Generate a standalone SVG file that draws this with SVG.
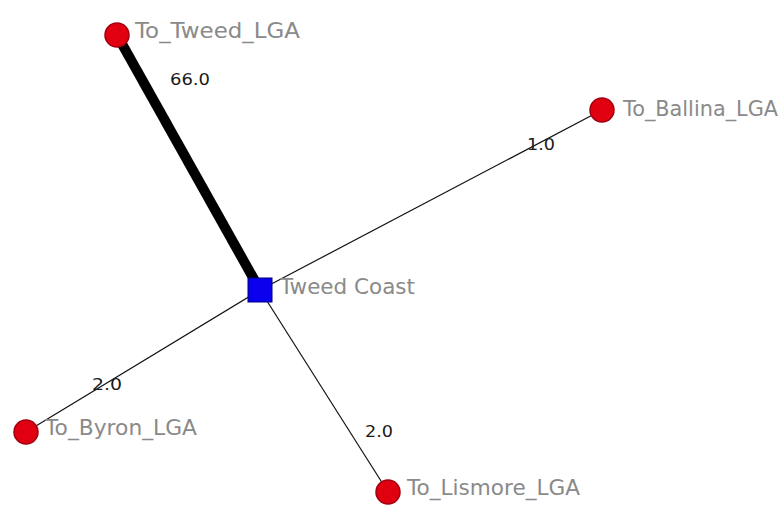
<svg xmlns="http://www.w3.org/2000/svg" width="784" height="509" viewBox="0 0 784 509">
<style>
.nl{font-family:"DejaVu Sans","Liberation Sans",sans-serif;font-size:20.5px;fill:#8a8a8a}
.el{font-family:"DejaVu Sans","Liberation Sans",sans-serif;font-size:16px;fill:#1a1a1a}
.c{fill:#e00010;stroke:#a00010;stroke-width:1.5}
.e{stroke:#111;stroke-width:1.2;fill:none}
</style>
<rect width="784" height="509" fill="#ffffff"/>
<g id="connectors">
<line class="e" x1="260" y1="290" x2="117" y2="35" style="stroke-width:10;stroke:#000"/>
<line class="e" x1="260" y1="290" x2="602" y2="110"/>
<line class="e" x1="260" y1="290" x2="26" y2="432"/>
<line class="e" x1="260" y1="290" x2="388" y2="492"/>
<text class="el" x="170" y="85" textLength="40" lengthAdjust="spacingAndGlyphs">66.0</text>
<text class="el" x="527" y="150" textLength="28" lengthAdjust="spacingAndGlyphs">1.0</text>
<text class="el" x="92" y="390" textLength="30" lengthAdjust="spacingAndGlyphs">2.0</text>
<text class="el" x="365" y="437" textLength="28" lengthAdjust="spacingAndGlyphs">2.0</text>
</g>
<g id="tweed_coast">
<rect x="248" y="278" width="24" height="24" fill="#0a00ee" stroke="#000080" stroke-width="1"/>
<text class="nl" x="280" y="294" textLength="135" lengthAdjust="spacingAndGlyphs">Tweed Coast</text>
</g>
<g id="to_tweed_lga">
<circle class="c" cx="117" cy="35" r="12"/>
<text class="nl" x="135" y="38" textLength="165" lengthAdjust="spacingAndGlyphs">To_Tweed_LGA</text>
</g>
<g id="to_ballina_lga">
<circle class="c" cx="602" cy="110" r="12"/>
<text class="nl" x="623" y="116" textLength="155" lengthAdjust="spacingAndGlyphs">To_Ballina_LGA</text>
</g>
<g id="to_byron_lga">
<circle class="c" cx="26" cy="432" r="12"/>
<text class="nl" x="45" y="435" textLength="152" lengthAdjust="spacingAndGlyphs">To_Byron_LGA</text>
</g>
<g id="to_lismore_lga">
<circle class="c" cx="388" cy="492" r="12"/>
<text class="nl" x="407" y="495" textLength="173" lengthAdjust="spacingAndGlyphs">To_Lismore_LGA</text>
</g>
</svg>
